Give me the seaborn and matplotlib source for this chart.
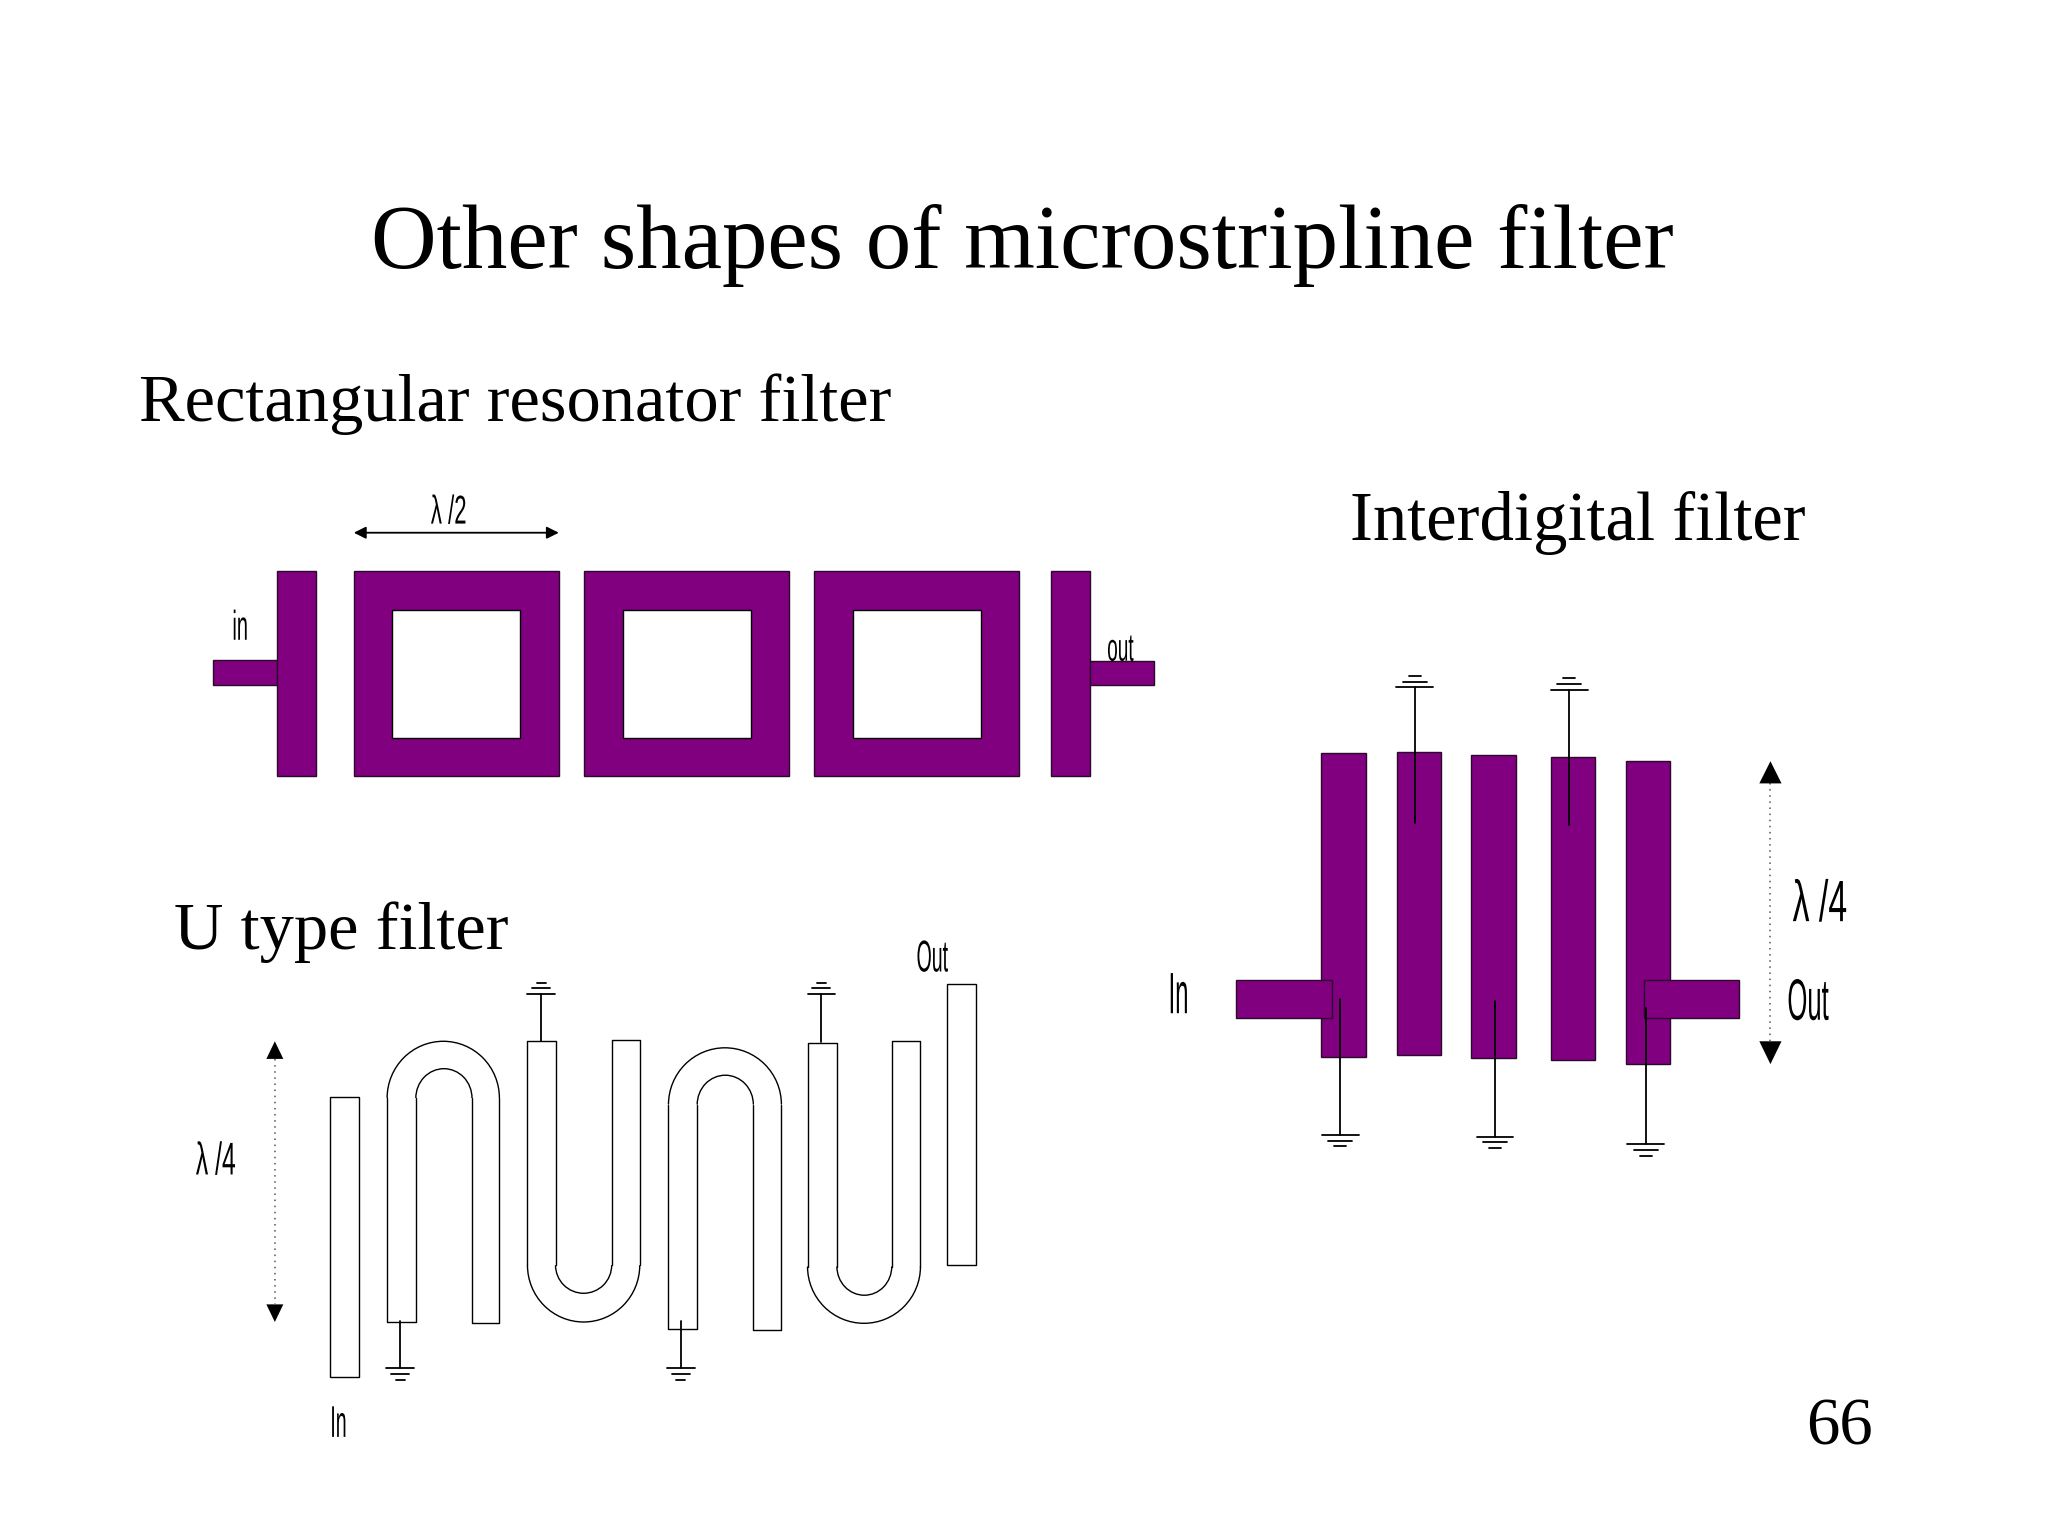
import numpy as np
import pandas as pd
import matplotlib
matplotlib.use('Agg')
import matplotlib.pyplot as plt
from matplotlib.patches import Arc
from matplotlib.patheffects import AbstractPathEffect
from matplotlib.transforms import Affine2D
import seaborn as sns

PURPLE = '#800080'
EDGE = '#2a0a2a'

# all positions
# solid purple blocks: left, right, top, bottom
solid_left = [163, 212, 271, 447, 623.5, 805, 834.5, 1012, 1070, 1127, 1188, 1245]
solid_right = [212, 242, 428, 604.5, 780.5, 834.5, 884, 1046, 1104, 1161, 1222, 1279]
solid_top = [505.5, 437, 437, 437, 437, 437, 506.5, 577, 576, 578, 580, 583]
solid_bottom = [525, 594, 594, 594, 594, 594, 524.5, 809.5, 808, 810, 812, 815]

# white windows in the square resonators
hole_left = [300, 477, 653]
hole_right = [398, 575, 751]
hole_top = [467, 467, 467]
hole_bottom = [565, 565, 565]

# feed stubs of the interdigital filter, drawn over the fingers
feed_left = [947, 1259.5]
feed_right = [1020, 1332]
feed_top = [750.5, 750.5]
feed_bottom = [779.5, 779.5]

# white straight strips in the U type filter
strip_left = [253, 725.5]
strip_right = [275, 747.5]
strip_top = [840, 754]
strip_bottom = [1055, 969]

# U type filter: x of the four leg edges, y where the bend starts,
# y of inner and outer bend tip, y of left and right leg end
bend_x0 = [296.5, 404, 512, 618.5]
bend_x1 = [318.5, 425.5, 534, 641]
bend_x2 = [361.5, 468.5, 577, 683]
bend_x3 = [382.5, 490, 598.5, 705]
bend_start = [841, 969, 846, 970]
bend_inner = [818.5, 990.5, 823.5, 992]
bend_outer = [797.5, 1012.5, 802.5, 1013.5]
end_left = [1012.5, 797.5, 1017.5, 799]
end_right = [1013.5, 796.5, 1018.5, 797.5]

# ground symbols: x, wire start, wire end (at the first plate), plate half width, direction
gnd_x = [414.5, 629, 306.5, 521.5, 1083.5, 1202, 1026.5, 1145, 1260.5]
gnd_from = [797, 798, 1012, 1012, 630, 632, 765, 767, 772]
gnd_to = [761.5, 761.5, 1048, 1048, 526.5, 528.5, 869, 870.5, 876]
gnd_half = [10.5, 10.5, 10.5, 10.5, 14, 14, 14, 14, 14]
gnd_dir = [-1, -1, 1, 1, -1, -1, 1, 1, 1]

# dimension arrows: x, tip top, base top, base bottom, tip bottom, half width
dim_x = [210.5, 1356]
dim_tip0 = [797.5, 583]
dim_base0 = [811, 600]
dim_base1 = [999, 797.5]
dim_tip1 = [1012.5, 815]
dim_half = [6.5, 8.5]

big_labels = ['Other shapes of microstripline filter', 'Rectangular resonator filter',
              'Interdigital filter', 'U type filter', '66']
big_x = [284.5, 106.5, 1034, 133, 1383.5]
big_y = [205, 322.5, 413.5, 727, 1106]
big_size = [65.4, 49.3, 49.4, 49.3, 48]

# condensed drawing labels
small_labels = ['\u03bb /2', 'in', 'out', '\u03bb /4', 'In', 'Out', '\u03bb /4', 'In', 'Out']
small_x = [330, 178, 848, 1373, 895, 1369, 150, 253, 702]
small_y = [401, 490, 506, 705.5, 776, 781, 899.5, 1100.5, 744]
small_size = [29, 30, 28, 42, 42, 42, 33, 32, 32]
small_squeeze = [0.55, 0.48, 0.49, 0.58, 0.41, 0.44, 0.54, 0.44, 0.44]


class Squeeze(AbstractPathEffect):
    # narrows the glyphs sideways, there is no condensed font here
    def __init__(self, sx):
        super().__init__()
        self.sx = sx

    def draw_path(self, renderer, gc, tpath, affine, rgbFace=None):
        renderer.draw_path(gc, tpath, Affine2D().scale(self.sx, 1) + affine, rgbFace)


sns.set_theme(style='white')
plt.rcParams['font.family'] = ['Liberation Serif', 'DejaVu Serif']

fig = plt.figure(figsize=(20.48, 15.36), dpi=100)
ax = fig.add_axes([0, 0, 1, 1])
ax.set_xlim(0, 1568.6)
ax.set_ylim(1176.4, 0)
ax.axis('off')


def blocks(left, right, top, bottom, face, zorder):
    left, right = np.array(left), np.array(right)
    top, bottom = np.array(top), np.array(bottom)
    ax.bar(left, bottom - top, width=right - left, bottom=top, align='edge',
           color=face, edgecolor=EDGE if face == PURPLE else 'black',
           linewidth=1.0, zorder=zorder)


def line_frame(segments):
    out = []
    for i, (xs, ys) in enumerate(segments):
        out.append(pd.DataFrame({'x': xs, 'y': ys, 'line': i}))
    return pd.concat(out, ignore_index=True)


blocks(solid_left, solid_right, solid_top, solid_bottom, PURPLE, 2)
blocks(hole_left, hole_right, hole_top, hole_bottom, 'white', 3)
blocks(feed_left, feed_right, feed_top, feed_bottom, PURPLE, 4)
blocks(strip_left, strip_right, strip_top, strip_bottom, 'white', 2)

wires = []
plates = []
for x, y0, y1, half, d in zip(gnd_x, gnd_from, gnd_to, gnd_half, gnd_dir):
    wires.append(([x, x], [y0, y1]))
    plates.append(([x - half, x + half], [y1, y1]))
    plates.append(([x - half * 0.65, x + half * 0.65], [y1 + d * 4.5, y1 + d * 4.5]))
    plates.append(([x - half * 0.33, x + half * 0.33], [y1 + d * 9, y1 + d * 9]))

legs = []
for i in range(4):
    x0, x1, x2, x3 = bend_x0[i], bend_x1[i], bend_x2[i], bend_x3[i]
    s, a, b = bend_start[i], end_left[i], end_right[i]
    legs.append(([x0, x0, x1, x1], [s, a, a, s]))
    legs.append(([x2, x2, x3, x3], [s, b, b, s]))
    # bends: on the flipped y axis the angles run the other way round
    up = bend_outer[i] < s
    t0, t1 = (180, 360) if up else (0, 180)
    ax.add_patch(Arc(((x0 + x3) / 2, s), x3 - x0, 2 * abs(s - bend_outer[i]),
                     theta1=t0, theta2=t1, color='black', lw=1.0, zorder=3))
    ax.add_patch(Arc(((x1 + x2) / 2, s), x2 - x1, 2 * abs(s - bend_inner[i]),
                     theta1=t0, theta2=t1, color='black', lw=1.0, zorder=3))

sns.lineplot(data=line_frame(legs), x='x', y='y', units='line', estimator=None, sort=False,
             color='black', linewidth=1.0, ax=ax, zorder=3, legend=False)
sns.lineplot(data=line_frame(wires + plates), x='x', y='y', units='line', estimator=None, sort=False,
             color='black', linewidth=1.3, ax=ax, zorder=5, legend=False)

# dotted dimension arrows
dots = [([x, x], [a, b]) for x, a, b in zip(dim_x, dim_base0, dim_base1)]
sns.lineplot(data=line_frame(dots), x='x', y='y', units='line', estimator=None, sort=False,
             color='#555555', linewidth=1.1, linestyle=(0, (1, 3)), ax=ax, zorder=3, legend=False)
for x, t0, b0, b1, t1, h in zip(dim_x, dim_tip0, dim_base0, dim_base1, dim_tip1, dim_half):
    ax.fill([x - h, x, x + h], [b0, t0, b0], color='black', lw=0, zorder=4)
    ax.fill([x - h, x, x + h], [b1, t1, b1], color='black', lw=0, zorder=4)

# lambda/2 arrow above the first resonator
ax.annotate('', xy=(271, 408), xytext=(428, 408),
            arrowprops=dict(arrowstyle='<|-|>', color='black', lw=1.3, mutation_scale=18,
                            shrinkA=0, shrinkB=0))

for text, x, y, size in zip(big_labels, big_x, big_y, big_size):
    ax.text(x, y, text, fontsize=size, color='black', ha='left', va='baseline',
            family=['Liberation Serif', 'DejaVu Serif'])

for text, x, y, size, sx in zip(small_labels, small_x, small_y, small_size, small_squeeze):
    ax.text(x, y, text, fontsize=size, color='black', ha='left', va='baseline',
            family=['Liberation Sans', 'DejaVu Sans'], path_effects=[Squeeze(sx)], zorder=6)

fig.savefig('out.png', dpi=100, facecolor='white')
